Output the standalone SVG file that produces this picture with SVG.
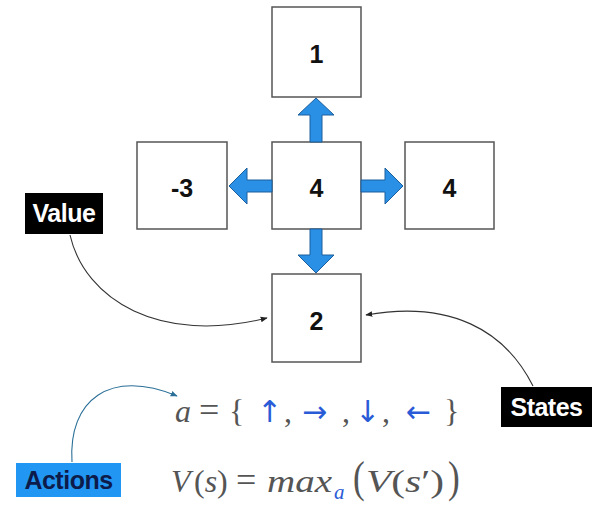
<svg xmlns="http://www.w3.org/2000/svg" width="596" height="509" viewBox="0 0 596 509">
<style>
.box{fill:#fff;stroke:#555;stroke-width:1.5}
.num{font-family:"Liberation Sans",Arial,sans-serif;font-weight:bold;font-size:25px;fill:#111;text-anchor:middle}
.blue{fill:#2a90e6;stroke:#1d5f9c;stroke-width:1}
.lbl{font-family:"Liberation Sans",Arial,sans-serif;font-weight:bold;font-size:25px;text-anchor:middle;letter-spacing:-0.5px}
.curve{fill:none;stroke:#333;stroke-width:1.1}
.math{font-family:"Liberation Serif","Times New Roman",serif;fill:#555}
.it{font-style:italic}
.ba{fill:#2a5bd7}
.arr{font-family:"DejaVu Sans",sans-serif;font-size:30px;fill:#2a5bd7}
</style>
<defs>
<marker id="ah" viewBox="0 0 10 10" refX="9" refY="5" markerWidth="7" markerHeight="7" markerUnits="userSpaceOnUse" orient="auto">
<path d="M0,1 L10,5 L0,9 z" fill="#222"/>
</marker>
<marker id="ahb" viewBox="0 0 10 10" refX="9" refY="5" markerWidth="7" markerHeight="7" markerUnits="userSpaceOnUse" orient="auto">
<path d="M0,1 L10,5 L0,9 z" fill="#2a6f97"/>
</marker>
</defs>

<g id="node-top"><rect class="box" x="272" y="7" width="89" height="90"/><text class="num" x="316.5" y="63">1</text></g>
<g id="node-left"><rect class="box" x="137" y="142" width="90" height="87"/><text class="num" x="182" y="197">-3</text></g>
<g id="node-center"><rect class="box" x="272" y="142" width="89" height="87"/><text class="num" x="316.5" y="197">4</text></g>
<g id="node-right"><rect class="box" x="405" y="142" width="89" height="87"/><text class="num" x="449.5" y="197">4</text></g>
<g id="node-bottom"><rect class="box" x="272" y="274" width="89" height="88"/><text class="num" x="316.5" y="330">2</text></g>

<g id="connectors">
<path class="blue" d="M310,142 V115 H298 L316,98 L334,115 H322 V142 Z"/>
<path class="blue" d="M310,229 V255 H298 L316,273 L334,255 H322 V229 Z"/>
<path class="blue" d="M272,180 H247 V168 L229,186 L247,204 V192 H272 Z"/>
<path class="blue" d="M361,180 H385 V168 L403,186 L385,204 V192 H361 Z"/>
<path class="curve" d="M70,235 C85,300 160,345 267,318" marker-end="url(#ah)"/>
<path class="curve" d="M533,386 C505,330 450,300 366,315" marker-end="url(#ah)"/>
<path class="curve" style="stroke:#2a6f97" d="M72,462 C68,400 110,368 177,396" marker-end="url(#ahb)"/>
</g>

<g id="label-value"><rect x="25" y="193" width="78" height="41" fill="#000"/><text class="lbl" x="64" y="222" fill="#fff">Value</text></g>
<g id="label-states"><rect x="501" y="387" width="91" height="40" fill="#000"/><text class="lbl" x="546.5" y="416" fill="#fff">States</text></g>
<g id="label-actions"><rect x="16" y="463" width="105" height="34" fill="#2196f3"/><text class="lbl" x="68.5" y="489" fill="#0d1b4a">Actions</text></g>

<g id="formula-actions">
<text class="math" y="422" style="font-size:32px"><tspan class="it" x="175">a</tspan><tspan x="199" style="font-size:36px">=</tspan><tspan x="229">{</tspan><tspan class="arr" x="257">↑</tspan><tspan x="284">,</tspan><tspan class="arr" x="302">→</tspan><tspan x="342">,</tspan><tspan class="arr" x="355">↓</tspan><tspan x="382">,</tspan><tspan class="arr" x="406">←</tspan><tspan x="444">}</tspan></text>
</g>
<g id="formula-value">
<text class="math" y="492" style="font-size:32px"><tspan class="it" x="171">V</tspan><tspan x="194">(</tspan><tspan class="it">s</tspan><tspan>)</tspan><tspan x="236" style="font-size:36px">=</tspan></text>
<text class="math it" x="267" y="492" style="font-size:32px" textLength="65" lengthAdjust="spacingAndGlyphs">max</text>
<text class="math it ba" x="334" y="499" style="font-size:21px">a</text>
<text class="math" x="353" y="492" style="font-size:44px" transform="translate(353 492) scale(0.8 1) translate(-353 -492)">(</text>
<text class="math" y="492" style="font-size:32px" textLength="78" x="366" lengthAdjust="spacingAndGlyphs"><tspan class="it">V</tspan><tspan>(</tspan><tspan class="it">s</tspan><tspan>′)</tspan></text>
<text class="math" x="448" y="492" style="font-size:44px" transform="translate(448 492) scale(0.8 1) translate(-448 -492)">)</text>
</g>
</svg>
